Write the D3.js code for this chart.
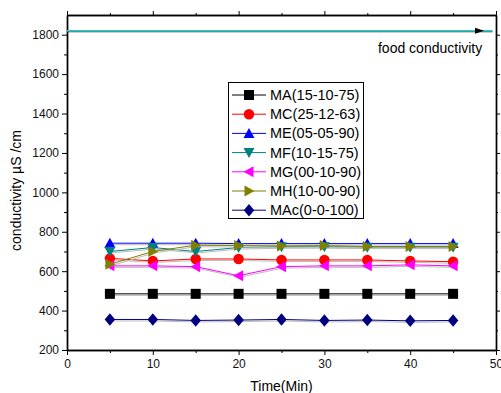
<!DOCTYPE html>
<html>
<head>
<meta charset="utf-8">
<script src="https://cdn.jsdelivr.net/npm/d3@7"></script>
<style>
  body { margin: 0; background: #fff; }
  svg { font-family: "Liberation Sans", Arial, sans-serif; }
</style>
</head>
<body>
<svg id="chart" width="501" height="393"></svg>
<script>
// time points (min)
var times = [5, 10, 15, 20, 25, 30, 35, 40, 45];

var seriesNames = ["MA(15-10-75)", "MC(25-12-63)", "ME(05-05-90)", "MF(10-15-75)", "MG(00-10-90)", "MH(10-00-90)", "MAc(0-0-100)"];
var seriesColors = ["#000000", "#ff0000", "#0000ff", "#008080", "#ff00ff", "#808000", "#000080"];
var seriesSymbols = ["square", "circle", "up", "down", "left", "right", "diamond"];

var MA  = [485, 485, 485, 485, 485, 485, 485, 485, 485];
var MC  = [665, 652, 662, 662, 657, 657, 657, 652, 648];
var ME  = [742, 742, 742, 740, 740, 740, 740, 740, 740];
var MF  = [700, 720, 700, 720, 724, 724, 722, 722, 722];
var MG  = [627, 627, 623, 577, 623, 627, 627, 632, 627];
var MH  = [635, 700, 732, 730, 728, 730, 725, 725, 725];
var MAc = [355, 355, 350, 352, 355, 350, 352, 348, 350];
var seriesValues = [MA, MC, ME, MF, MG, MH, MAc];

var foodConductivity = 1820;

var xTicks = [0, 10, 20, 30, 40, 50];
var yTicks = [200, 400, 600, 800, 1000, 1200, 1400, 1600, 1800];

var svg = d3.select("#chart");
var mLeft = 67, mRight = 496, mTop = 15, mBottom = 350;

var x = d3.scaleLinear().domain([0, 50]).range([mLeft, mRight]);
var y = d3.scaleLinear().domain([200, 1900]).range([mBottom, mTop]);

// axes
svg.append("g").attr("transform", "translate(0," + mBottom + ")")
    .call(d3.axisBottom(x).tickValues(xTicks).tickFormat(d3.format("d")).tickSize(5).tickPadding(4).tickSizeOuter(0));
svg.append("g").attr("transform", "translate(0," + mBottom + ")")
    .call(d3.axisBottom(x).tickValues(d3.range(5, 50, 10)).tickSize(3).tickFormat("").tickSizeOuter(0));
svg.append("g").attr("transform", "translate(" + mLeft + ",0)")
    .call(d3.axisLeft(y).tickValues(yTicks).tickFormat(d3.format("d")).tickSize(5).tickPadding(3).tickSizeOuter(0));
svg.append("g").attr("transform", "translate(" + mLeft + ",0)")
    .call(d3.axisLeft(y).tickValues(d3.range(300, 1900, 200)).tickSize(3).tickFormat("").tickSizeOuter(0));
// mirror axes
svg.append("g").attr("transform", "translate(0," + mTop + ")")
    .call(d3.axisTop(x).tickValues(xTicks).tickSize(4).tickFormat("").tickSizeOuter(0));
svg.append("g").attr("transform", "translate(0," + mTop + ")")
    .call(d3.axisTop(x).tickValues(d3.range(5, 50, 10)).tickSize(2).tickFormat("").tickSizeOuter(0));
svg.append("g").attr("transform", "translate(" + mRight + ",0)")
    .call(d3.axisRight(y).tickValues(yTicks).tickSize(4).tickFormat("").tickSizeOuter(0));
svg.append("g").attr("transform", "translate(" + mRight + ",0)")
    .call(d3.axisRight(y).tickValues(d3.range(300, 1900, 200)).tickSize(2).tickFormat("").tickSizeOuter(0));

svg.selectAll(".domain").attr("stroke", "#000").attr("stroke-width", 1.4);
svg.selectAll(".tick line").attr("stroke", "#000");
svg.selectAll(".tick text").attr("font-size", 12).attr("fill", "#111")
    .attr("font-family", "'Liberation Sans', Arial, sans-serif");

// axis titles
svg.append("text")
    .attr("transform", "translate(21," + ((mTop + mBottom) / 2 + 8) + ") rotate(-90)")
    .attr("text-anchor", "middle")
    .attr("font-size", 14)
    .text("conductivity µS /cm");
svg.append("text")
    .attr("x", (mLeft + mRight) / 2)
    .attr("y", 391)
    .attr("text-anchor", "middle")
    .attr("font-size", 14)
    .text("Time(Min)");

// food conductivity reference line
svg.append("line")
    .attr("x1", x(0)).attr("x2", x(49.6))
    .attr("y1", y(foodConductivity) + 1).attr("y2", y(foodConductivity) + 1)
    .attr("stroke", "#333").attr("stroke-width", 1);
svg.append("line")
    .attr("x1", x(0)).attr("x2", x(49.6))
    .attr("y1", y(foodConductivity)).attr("y2", y(foodConductivity))
    .attr("stroke", "#22cccc").attr("stroke-width", 1.6);
var ax = x(48.6), ay = y(foodConductivity);
svg.append("path")
    .attr("d", "M" + (ax - 9) + "," + (ay - 3) + "L" + ax + "," + ay + "L" + (ax - 9) + "," + (ay + 3) + "Z")
    .attr("fill", "#000");
svg.append("text")
    .attr("x", x(48.4)).attr("y", y(foodConductivity) + 22)
    .attr("text-anchor", "end")
    .attr("font-size", 14)
    .text("food conductivity");

function symbolPath(kind, s) {
  if (kind === "square") return "M" + (-s) + "," + (-s) + "h" + (2 * s) + "v" + (2 * s) + "h" + (-2 * s) + "Z";
  if (kind === "circle") return d3.symbol(d3.symbolCircle, Math.PI * s * s * 1.1)();
  if (kind === "up") return "M0," + (-s * 1.1) + "L" + (s * 1.1) + "," + (s * 0.9) + "L" + (-s * 1.1) + "," + (s * 0.9) + "Z";
  if (kind === "down") return "M0," + (s * 1.1) + "L" + (s * 1.1) + "," + (-s * 0.9) + "L" + (-s * 1.1) + "," + (-s * 0.9) + "Z";
  if (kind === "left") return "M" + (-s * 1.1) + ",0L" + (s * 0.9) + "," + (-s * 1.1) + "L" + (s * 0.9) + "," + (s * 1.1) + "Z";
  if (kind === "right") return "M" + (s * 1.1) + ",0L" + (-s * 0.9) + "," + (-s * 1.1) + "L" + (-s * 0.9) + "," + (s * 1.1) + "Z";
  return "M0," + (-s * 1.25) + "L" + (s * 1.05) + ",0L0," + (s * 1.25) + "L" + (-s * 1.05) + ",0Z";
}

var line = d3.line().x(function (d) { return x(d[0]); }).y(function (d) { return y(d[1]); });

seriesValues.forEach(function (vals, i) {
  var pts = times.map(function (t, j) { return [t, vals[j]]; });
  var g = svg.append("g");
  // light shadow
  g.append("path").datum(pts).attr("d", line)
      .attr("transform", "translate(1,1.5)")
      .attr("fill", "none").attr("stroke", "#bbb").attr("stroke-width", 1);
  g.append("path").datum(pts).attr("d", line)
      .attr("fill", "none").attr("stroke", seriesColors[i]).attr("stroke-width", 1);
  g.selectAll("path.mk").data(pts).enter().append("path")
      .attr("class", "mk")
      .attr("transform", function (d) { return "translate(" + x(d[0]) + "," + y(d[1]) + ")"; })
      .attr("d", symbolPath(seriesSymbols[i], 5))
      .attr("fill", seriesColors[i]);
});

// legend
var lg = svg.append("g");
lg.append("rect").attr("x", 228.5).attr("y", 82.5).attr("width", 135).attr("height", 136)
    .attr("fill", "#fff").attr("stroke", "#000").attr("stroke-width", 1);
seriesNames.forEach(function (name, i) {
  var ly = 95 + i * 19.2;
  lg.append("line").attr("x1", 232).attr("x2", 266).attr("y1", ly).attr("y2", ly)
      .attr("stroke", seriesColors[i]).attr("stroke-width", 1);
  lg.append("path").attr("transform", "translate(249," + ly + ")")
      .attr("d", symbolPath(seriesSymbols[i], 5)).attr("fill", seriesColors[i]);
  lg.append("text").attr("x", 270).attr("y", ly + 5).attr("font-size", 14.5).text(name);
});
</script>
</body>
</html>
